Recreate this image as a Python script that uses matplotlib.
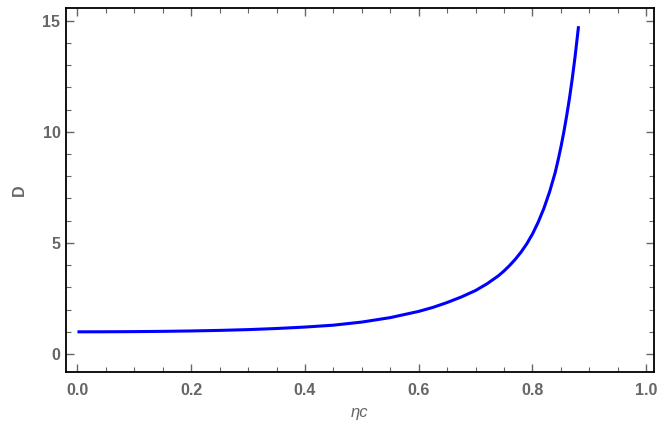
import matplotlib
matplotlib.use('Agg')
import matplotlib.pyplot as plt
from matplotlib.ticker import MultipleLocator

# D as a function of eta_C
eta_c = [0.000, 0.050, 0.100, 0.150, 0.200, 0.250, 0.300, 0.350, 0.400,
         0.450, 0.500, 0.550, 0.600, 0.625, 0.650, 0.675, 0.700, 0.720,
         0.740, 0.750, 0.760, 0.770, 0.780, 0.790, 0.800, 0.810, 0.820,
         0.830, 0.840, 0.845, 0.850, 0.855, 0.860, 0.865, 0.870, 0.875,
         0.881]
d_vals = [1.000, 1.003, 1.010, 1.022, 1.040, 1.065, 1.100, 1.150, 1.215,
          1.300, 1.440, 1.640, 1.920, 2.100, 2.320, 2.570, 2.860, 3.160,
          3.520, 3.740, 3.990, 4.270, 4.590, 4.960, 5.400, 5.930, 6.550,
          7.290, 8.170, 8.720, 9.310, 9.970, 10.70, 11.50, 12.40, 13.40,
          14.75]

x_ticks = [0.0, 0.2, 0.4, 0.6, 0.8, 1.0]
y_ticks = [0, 5, 10, 15]

gray = '#666666'
plt.rcParams['font.family'] = ['Liberation Sans', 'DejaVu Sans']

fig = plt.figure(figsize=(6.61, 4.44), dpi=100)
ax = fig.add_axes([0.0998, 0.162, 0.8892, 0.821])

ax.plot(eta_c, d_vals, color='#0000ff', linewidth=2.2,
        solid_capstyle='butt', solid_joinstyle='round')

ax.set_xlim(-0.0202, 1.0132)
ax.set_ylim(-0.81, 15.59)
ax.set_xticks(x_ticks)
ax.set_xticklabels([f'{v:.1f}' for v in x_ticks])
ax.set_yticks(y_ticks)
ax.xaxis.set_minor_locator(MultipleLocator(0.05))
ax.yaxis.set_minor_locator(MultipleLocator(1))

ax.tick_params(which='both', direction='in', top=True, right=True,
               color=gray, labelcolor=gray, labelsize=11.5)
ax.tick_params(axis='x', which='major', length=6, width=1.0, pad=8)
ax.tick_params(axis='y', which='major', length=6, width=1.0, pad=4)
ax.tick_params(which='minor', length=3.5, width=0.8)
for lab in ax.get_xticklabels() + ax.get_yticklabels():
    lab.set_fontweight('bold')

for sp in ax.spines.values():
    sp.set_linewidth(1.3)
    sp.set_color('black')

ax.set_xlabel('ηc', fontsize=12, color=gray, style='italic', labelpad=5)
ax.set_ylabel('D', fontsize=11.5, color=gray, fontweight='bold', labelpad=11)

fig.savefig('out.png', dpi=100, facecolor='white')
